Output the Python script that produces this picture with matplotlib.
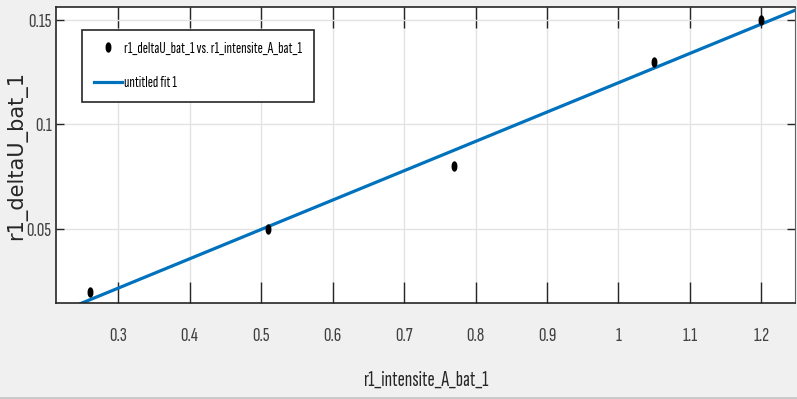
import numpy as np
import matplotlib
matplotlib.use("Agg")
import matplotlib.pyplot as plt
from matplotlib.path import Path
from matplotlib.transforms import Affine2D
from matplotlib.lines import Line2D

# measured battery data
intensite = [0.26, 0.51, 0.77, 1.05, 1.2]
delta_u = [0.02, 0.05, 0.08, 0.13, 0.15]

xticks = [0.3, 0.4, 0.5, 0.6, 0.7, 0.8, 0.9, 1.0, 1.1, 1.2]
xtick_labels = ["0.3", "0.4", "0.5", "0.6", "0.7", "0.8", "0.9", "1", "1.1", "1.2"]
yticks = [0.05, 0.1, 0.15]
ytick_labels = ["0.05", "0.1", "0.15"]

narrow = ["Sofia Sans Extra Condensed", "Archivo Narrow", "DejaVu Sans"]
plt.rcParams["font.family"] = narrow

# linear fit (poly1)
p = np.polyfit(intensite, delta_u, 1)

fig = plt.figure(figsize=(7.97, 3.99), dpi=100, facecolor="#f0f0f0")
ax = fig.add_axes([56 / 797, 1 - 303 / 399, 739 / 797, 296 / 399])
ax.set_facecolor("white")

rng = max(intensite) - min(intensite)
xlo, xhi = min(intensite) - 0.05 * rng, max(intensite) + 0.05 * rng
ax.set_xlim(xlo, xhi)
ax.set_ylim(0.0146, 0.1562)

# tall dot marker
dot = Path.unit_circle().transformed(Affine2D().scale(0.5, 1.0))
ax.plot(intensite, delta_u, linestyle="none", marker=dot, markersize=6.5,
        color="black", label="r1_deltaU_bat_1 vs. r1_intensite_A_bat_1", zorder=3)

xf = np.linspace(xlo, xhi, 200)
ax.plot(xf, np.polyval(p, xf), color="#0072BD", linewidth=2.3,
        label="untitled fit 1", zorder=2)

ax.set_xticks(xticks)
ax.set_xticklabels(xtick_labels)
ax.set_yticks(yticks)
ax.set_yticklabels(ytick_labels)
ax.grid(True, color="#e3e3e3", linewidth=1.0)
ax.set_axisbelow(True)

ax.tick_params(axis="x", direction="in", length=15, width=1, color="#262626",
               top=True, labelsize=15, labelcolor="#404040", pad=17)
ax.tick_params(axis="y", direction="in", length=6, width=1, color="#262626",
               right=True, labelsize=15, labelcolor="#404040", pad=3)

for side in ["left", "bottom", "top"]:
    ax.spines[side].set_color("#262626")
    ax.spines[side].set_linewidth(1.2)
ax.spines["right"].set_color("#606060")

ax.set_xlabel("r1_intensite_A_bat_1", fontsize=15.5, color="#262626", labelpad=19)
ax.set_ylabel("r1_deltaU_bat_1", fontsize=15, color="#262626",
              family=["DejaVu Sans"], va="center")
ax.yaxis.set_label_coords(-39 / 739, 0.5)

leg = ax.legend(loc="upper left", bbox_to_anchor=(26 / 739, 1 - 23 / 296),
                fontsize=11.3, fancybox=False, framealpha=1, edgecolor="#262626",
                borderpad=0.75, labelspacing=1.3, handlelength=1.8,
                handletextpad=0.12, borderaxespad=0)
leg.get_frame().set_linewidth(1.2)

fig.add_artist(Line2D([0, 1], [1.5 / 399, 1.5 / 399], color="#c8c8c8", linewidth=2))

fig.savefig("out.png", dpi=100, facecolor=fig.get_facecolor())
